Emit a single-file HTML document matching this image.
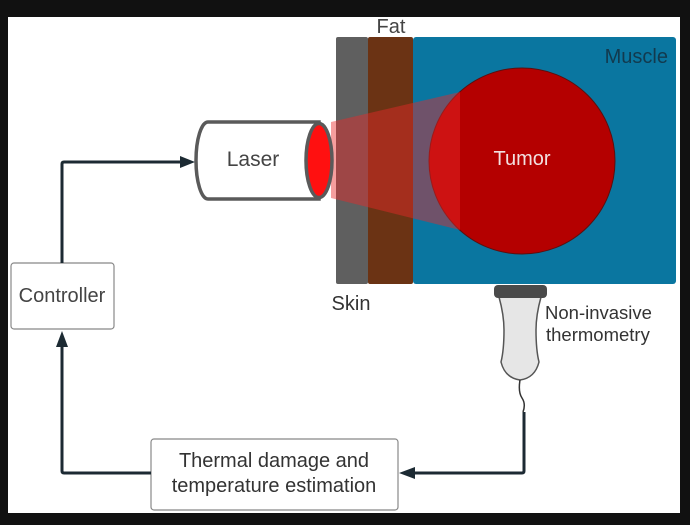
<!DOCTYPE html>
<html><head><style>
html,body{margin:0;padding:0;background:#111;}
svg{display:block;}
text{font-family:"Liberation Sans",sans-serif;}
</style></head><body>
<svg width="690" height="525" viewBox="0 0 690 525">
<rect x="0" y="0" width="690" height="525" fill="#111"/>
<rect x="8" y="17" width="672" height="496" fill="#fff"/>
<rect x="336" y="37" width="32" height="247" rx="2" fill="#5f5f5f"/>
<rect x="368" y="37" width="45" height="247" rx="2" fill="#6b3314"/>
<rect x="413" y="37" width="263" height="247" rx="3" fill="#0a76a0"/>
<circle cx="522" cy="161" r="93" fill="#b40000" stroke="#5a1010" stroke-width="1"/>
<polygon points="331,122 460,92 460,230 331,198" fill="rgba(235,40,40,0.45)"/>
<text x="391" y="33" font-size="20" fill="#444" text-anchor="middle">Fat</text>
<text x="668" y="63" font-size="20" fill="#123a4e" text-anchor="end">Muscle</text>
<text x="522" y="165" font-size="20" fill="#f2e0e0" text-anchor="middle">Tumor</text>
<text x="351" y="310" font-size="20" fill="#333" text-anchor="middle">Skin</text>
<path d="M208,122 L319,122 L319,199 L208,199 A12,38.5 0 0 1 208,122 Z" fill="#fff" stroke="#5a5a5a" stroke-width="3.5"/>
<ellipse cx="319" cy="160.5" rx="13" ry="37" fill="#ff1010" stroke="#5a5a5a" stroke-width="3.5"/>
<text x="253" y="166" font-size="21" fill="#444" text-anchor="middle">Laser</text>
<path d="M499,297 L541,297 Q536,315 536,330 Q536,350 539,362 Q535,378 520,380 Q505,378 501,362 Q504,350 504,330 Q504,315 499,297 Z" fill="#e6e6e6" stroke="#555" stroke-width="1.5"/>
<rect x="494" y="285" width="53" height="13" rx="4" fill="#4a4a4a"/>
<path d="M520,380 Q518,392 522,398 Q526,404 523,412" fill="none" stroke="#333" stroke-width="1.5"/>
<text x="545" y="319" font-size="18.5" fill="#333">Non-invasive</text>
<text x="546" y="341" font-size="18.5" fill="#333">thermometry</text>
<rect x="11" y="263" width="103" height="66" rx="3" fill="#fff" stroke="#888" stroke-width="1.2"/>
<text x="62" y="302" font-size="20" fill="#444" text-anchor="middle">Controller</text>
<rect x="151" y="439" width="247" height="71" rx="3" fill="#fff" stroke="#888" stroke-width="1.2"/>
<text x="274" y="467" font-size="20" fill="#333" text-anchor="middle">Thermal damage and</text>
<text x="274" y="492" font-size="20" fill="#333" text-anchor="middle">temperature estimation</text>
<g fill="none" stroke="#1c2a33" stroke-width="3">
<path d="M62,263 L62,164 Q62,162 64,162 L182,162"/>
<path d="M151,473 L64,473 Q62,473 62,471 L62,346"/>
<path d="M524,412 L524,471 Q524,473 522,473 L414,473"/>
</g>
<g fill="#1c2a33">
<polygon points="195,162 180,156 180,168"/>
<polygon points="62,331 56,347 68,347"/>
<polygon points="399,473 415,467 415,479"/>
</g>
</svg>
</body></html>
